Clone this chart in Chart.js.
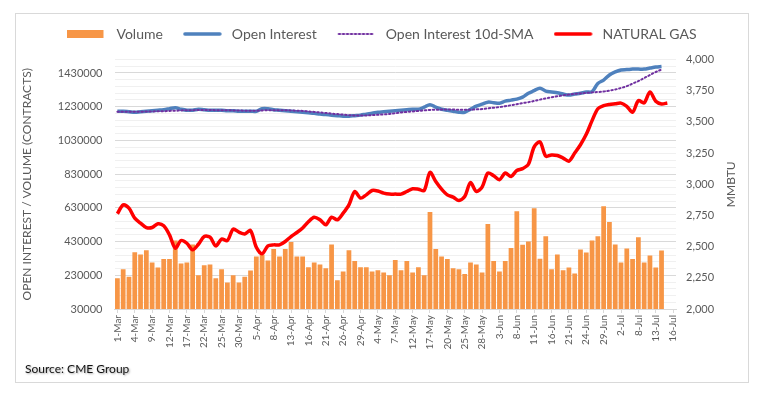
<!DOCTYPE html>
<html>
<head>
<meta charset="utf-8">
<script src="https://cdn.jsdelivr.net/npm/chart.js@4.4.0/dist/chart.umd.min.js"></script>
<style>
  html, body { margin: 0; padding: 0; background: #fff; }
  canvas { display: block; }
</style>
</head>
<body>
<canvas id="ngChart" width="764" height="395"></canvas>
<script>
// categories: trading days 1-Mar .. 16-Jul
const dates = [
  '1-Mar','2-Mar','3-Mar','4-Mar','5-Mar','8-Mar','9-Mar','10-Mar','11-Mar','12-Mar',
  '15-Mar','16-Mar','17-Mar','18-Mar','19-Mar','22-Mar','23-Mar','24-Mar','25-Mar','26-Mar',
  '29-Mar','30-Mar','31-Mar','1-Apr','5-Apr','6-Apr','7-Apr','8-Apr','9-Apr','12-Apr',
  '13-Apr','14-Apr','15-Apr','16-Apr','19-Apr','20-Apr','21-Apr','22-Apr','23-Apr','26-Apr',
  '27-Apr','28-Apr','29-Apr','30-Apr','3-May','4-May','5-May','6-May','7-May','10-May',
  '11-May','12-May','13-May','14-May','17-May','18-May','19-May','20-May','21-May','24-May',
  '25-May','26-May','27-May','28-May','1-Jun','2-Jun','3-Jun','4-Jun','7-Jun','8-Jun',
  '9-Jun','10-Jun','11-Jun','14-Jun','15-Jun','16-Jun','17-Jun','18-Jun','21-Jun','22-Jun',
  '23-Jun','24-Jun','25-Jun','28-Jun','29-Jun','30-Jun','1-Jul','2-Jul','6-Jul','7-Jul',
  '8-Jul','9-Jul','12-Jul','13-Jul','14-Jul','15-Jul','16-Jul'
];

const volume = [
  213000,266000,222000,367000,353000,379000,306000,276000,326000,326000,
  436000,300000,306000,412000,230000,290000,294000,213000,266000,187000,
  230000,187000,222000,258000,341000,352000,318000,386000,341000,386000,
  427000,341000,341000,278000,306000,294000,272000,413000,201000,252000,
  379000,314000,278000,278000,252000,260000,246000,230000,320000,260000,
  314000,246000,278000,230000,606000,386000,341000,326000,272000,266000,
  237000,306000,294000,246000,534000,314000,252000,314000,392000,610000,
  411000,431000,627000,328000,461000,266000,353000,260000,276000,240000,
  383000,365000,437000,461000,639000,546000,413000,306000,389000,326000,
  455000,306000,348000,276000,377000
];

const openInterest = [
  1203000,1203000,1200000,1197000,1200000,1203000,1206000,1209000,1212000,1218000,
  1224000,1215000,1209000,1209000,1215000,1212000,1209000,1209000,1209000,1206000,
  1206000,1203000,1203000,1203000,1203000,1218000,1218000,1212000,1209000,1206000,
  1203000,1200000,1197000,1194000,1191000,1186000,1183000,1180000,1177000,1174000,
  1174000,1177000,1180000,1186000,1191000,1197000,1200000,1203000,1206000,1209000,
  1212000,1215000,1215000,1227000,1242000,1227000,1215000,1209000,1203000,1197000,
  1197000,1215000,1233000,1245000,1257000,1254000,1251000,1263000,1269000,1275000,
  1287000,1310000,1325000,1340000,1322000,1317000,1313000,1305000,1299000,1305000,
  1310000,1317000,1319000,1368000,1388000,1418000,1436000,1448000,1450000,1453000,
  1453000,1453000,1459000,1465000,1468000
];

const oiSma10 = [
  1200000,1200000,1200000,1200000,1200000,1202000,1202000,1203000,1203000,1205000,
  1206000,1208000,1209000,1209000,1211000,1211000,1211000,1209000,1209000,1209000,
  1208000,1208000,1206000,1206000,1206000,1208000,1209000,1209000,1209000,1209000,
  1208000,1206000,1205000,1202000,1199000,1196000,1193000,1189000,1186000,1183000,
  1180000,1178000,1178000,1178000,1180000,1182000,1184000,1187000,1191000,1196000,
  1199000,1202000,1205000,1208000,1211000,1212000,1213000,1213000,1213000,1212000,
  1212000,1212000,1214000,1216000,1220000,1224000,1228000,1233000,1239000,1245000,
  1251000,1257000,1264000,1272000,1279000,1286000,1292000,1297000,1302000,1306000,
  1309000,1312000,1315000,1317000,1320000,1325000,1332000,1341000,1352000,1367000,
  1382000,1400000,1418000,1436000,1450000
];

const naturalGas = [
  2763,2835,2808,2728,2688,2653,2653,2683,2667,2594,
  2487,2549,2527,2474,2519,2581,2576,2506,2560,2549,
  2640,2616,2602,2629,2495,2442,2506,2514,2514,2541,
  2581,2613,2650,2700,2736,2715,2675,2736,2715,2768,
  2835,2942,2889,2915,2950,2946,2929,2921,2921,2921,
  2942,2964,2960,2950,3095,3022,2961,2915,2897,2870,
  2902,3014,2942,2977,3090,3068,3036,3090,3062,3110,
  3125,3160,3300,3340,3225,3235,3230,3210,3185,3250,
  3317,3400,3510,3605,3630,3640,3645,3650,3625,3577,
  3670,3652,3740,3665,3644,3652
];

const leftTicks = [30000, 230000, 430000, 630000, 830000, 1030000, 1230000, 1430000];
const rightTicks = [2000, 2250, 2500, 2750, 3000, 3250, 3500, 3750, 4000];

const COLORS = {
  volume: '#F79646',
  oi: '#4F81BD',
  sma: '#7030A0',
  gas: '#FF0000',
  text: '#595959'
};

Chart.defaults.font.family = 'Lato, "Open Sans", sans-serif';
Chart.defaults.color = COLORS.text;

// little legend symbols
function legendSymbol(kind, color) {
  const c = document.createElement('canvas');
  c.width = 42; c.height = 10;
  const g = c.getContext('2d');
  if (kind === 'box') {
    g.fillStyle = color;
    g.fillRect(0, 1, 36, 8);
  } else {
    g.strokeStyle = color;
    g.lineCap = 'round';
    if (kind === 'dots') {
      g.lineWidth = 2;
      g.setLineDash([1.5, 2.5]);
    } else {
      g.lineWidth = 3.5;
    }
    g.beginPath();
    g.moveTo(2, 5);
    g.lineTo(37, 5);
    g.stroke();
  }
  return c;
}

const frameAndNotes = {
  id: 'frameAndNotes',
  beforeInit(chart) {
    // push the plot down below the legend
    const fit = chart.legend.fit;
    chart.legend.fit = function () {
      fit.bind(chart.legend)();
      this.height += 8.5;
    };
  },
  beforeDraw(chart) {
    const ctx = chart.ctx;
    ctx.save();
    ctx.fillStyle = '#fff';
    ctx.fillRect(0, 0, chart.width, chart.height);
    ctx.strokeStyle = '#d9d9d9';
    ctx.lineWidth = 1;
    ctx.strokeRect(15.5, 13.5, 733, 369);
    ctx.restore();
  },
  afterDraw(chart) {
    const ctx = chart.ctx;
    const area = chart.chartArea;
    ctx.save();
    // right axis title, bottom-to-top like the left one
    ctx.font = '12px Lato';
    ctx.fillStyle = COLORS.text;
    ctx.textAlign = 'center';
    ctx.textBaseline = 'middle';
    ctx.translate(731.5, (area.top + area.bottom) / 2);
    ctx.rotate(-Math.PI / 2);
    ctx.fillText('MMBTU', 0, 0);
    ctx.restore();

    ctx.save();
    ctx.font = '12px Lato';
    ctx.fillStyle = '#111';
    ctx.textAlign = 'left';
    ctx.textBaseline = 'middle';
    ctx.shadowColor = 'rgba(0,0,0,0.35)';
    ctx.shadowOffsetX = 1;
    ctx.shadowOffsetY = 1;
    ctx.shadowBlur = 2;
    ctx.fillText('Source: CME Group', 25, 369);
    ctx.restore();
  }
};

new Chart(document.getElementById('ngChart'), {
  type: 'bar',
  data: {
    labels: dates,
    datasets: [
      {
        type: 'bar',
        label: 'Volume',
        data: volume,
        yAxisID: 'y',
        backgroundColor: COLORS.volume,
        barPercentage: 0.82,
        categoryPercentage: 1,
        order: 4
      },
      {
        type: 'line',
        label: 'Open Interest',
        data: openInterest,
        yAxisID: 'y',
        borderColor: COLORS.oi,
        borderWidth: 3.5,
        pointRadius: 0,
        tension: 0.35,
        order: 3
      },
      {
        type: 'line',
        label: 'Open Interest 10d-SMA',
        data: oiSma10,
        yAxisID: 'y',
        borderColor: COLORS.sma,
        borderWidth: 2,
        borderDash: [1.5, 2.5],
        borderCapStyle: 'round',
        pointRadius: 0,
        tension: 0.35,
        order: 2
      },
      {
        type: 'line',
        label: 'NATURAL GAS',
        data: naturalGas,
        yAxisID: 'y1',
        borderColor: COLORS.gas,
        borderWidth: 3.5,
        pointRadius: 0,
        tension: 0.3,
        order: 1
      }
    ]
  },
  plugins: [frameAndNotes],
  options: {
    responsive: false,
    animation: false,
    layout: { padding: { left: 16, right: 16, top: 7, bottom: 36 } },
    plugins: {
      tooltip: { enabled: false },
      legend: {
        position: 'top',
        labels: {
          usePointStyle: true,
          pointStyleWidth: 42,
          padding: 20,
          color: COLORS.text,
          font: { size: 14 },
          generateLabels(chart) {
            const kinds = ['box', 'line', 'dots', 'line'];
            return chart.data.datasets.map((ds, i) => ({
              text: ds.label,
              datasetIndex: i,
              hidden: false,
              lineWidth: 0,
              fillStyle: ds.borderColor || ds.backgroundColor,
              strokeStyle: ds.borderColor || ds.backgroundColor,
              fontColor: COLORS.text,
              pointStyle: legendSymbol(kinds[i], ds.borderColor || ds.backgroundColor)
            }));
          }
        }
      }
    },
    scales: {
      x: {
        offset: true,
        grid: {
          display: true,
          drawOnChartArea: false,
          drawTicks: true,
          tickLength: 4,
          offset: false,
          color: '#d9d9d9'
        },
        border: { color: '#d9d9d9' },
        ticks: {
          autoSkip: false,
          minRotation: 90,
          maxRotation: 90,
          padding: 2,
          font: { size: 10 },
          color: COLORS.text,
          callback: (v, i) => (i % 3 === 0 ? dates[i] : null)
        },
        afterFit: s => { s.height = 50; }
      },
      y: {
        position: 'left',
        min: 30000,
        max: 1510000,
        border: { display: false },
        grid: {
          drawTicks: false,
          color: c => (c.tick && leftTicks.includes(c.tick.value) ? '#d9d9d9' : '#f0f0f0')
        },
        ticks: {
          stepSize: 40000,
          autoSkip: false,
          padding: 12,
          font: { size: 11 },
          color: COLORS.text,
          callback: v => (leftTicks.includes(v) ? String(v) : '')
        },
        title: {
          display: true,
          text: 'OPEN INTEREST / VOLUME (CONTRACTS)',
          font: { size: 12 },
          color: COLORS.text,
          padding: { top: 4, bottom: 4 }
        },
        afterFit: s => { s.width = 98.5; }
      },
      y1: {
        position: 'right',
        min: 2000,
        max: 4000,
        border: { display: false },
        grid: { display: false, drawTicks: false },
        afterBuildTicks: s => { s.ticks = rightTicks.map(v => ({ value: v })); },
        ticks: {
          padding: 10,
          font: { size: 11 },
          color: COLORS.text,
          callback: v => v.toLocaleString('en-US')
        },
        afterFit: s => { s.width = 72; }
      }
    }
  }
});
</script>
</body>
</html>
